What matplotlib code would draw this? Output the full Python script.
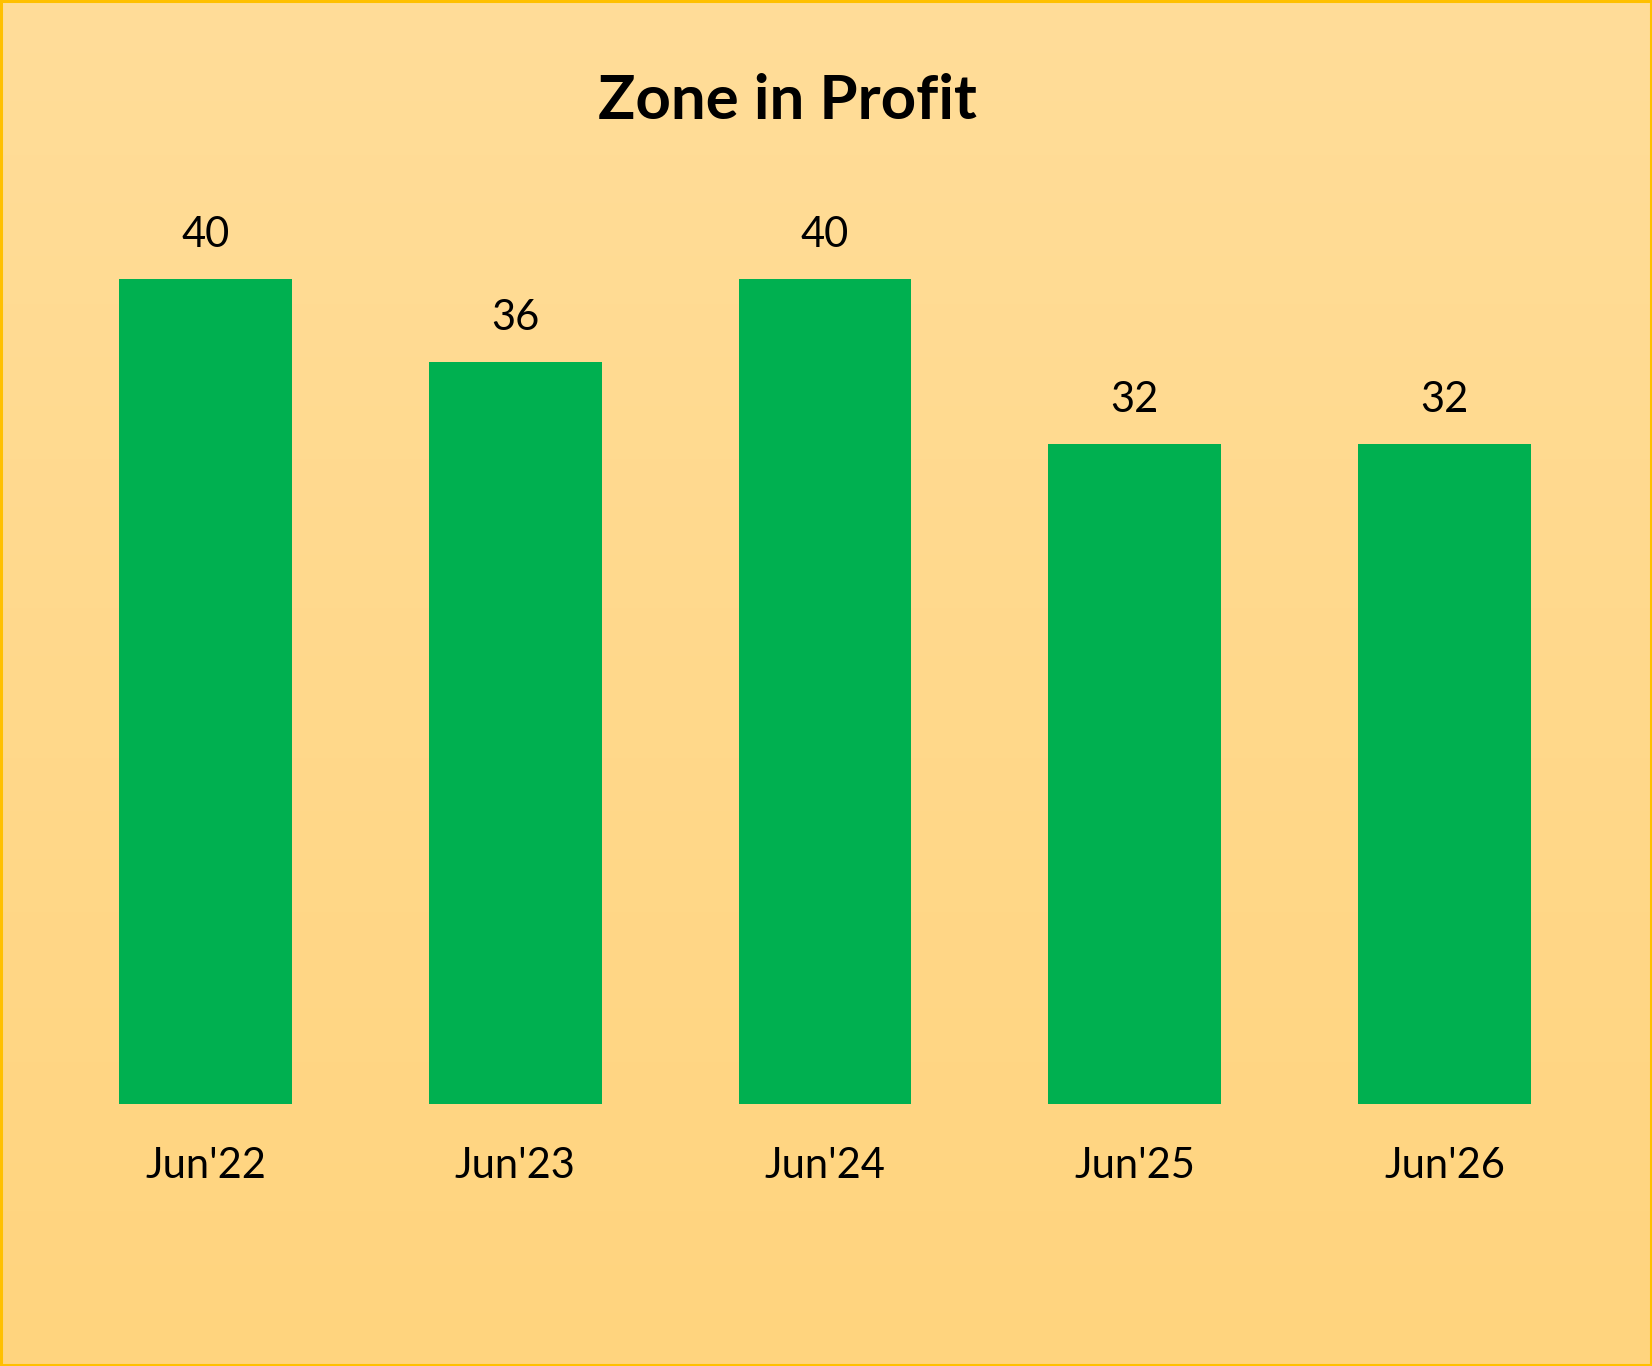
import numpy as np
import matplotlib.pyplot as plt
from matplotlib.patches import Rectangle

categories = ["Jun'22", "Jun'23", "Jun'24", "Jun'25", "Jun'26"]
profit = [40, 36, 40, 32, 32]

W, H = 1652, 1366
plt.rcParams['font.family'] = ['Lato', 'DejaVu Sans']

fig = plt.figure(figsize=(W / 100, H / 100), dpi=100)

# fond en dégradé
bg = fig.add_axes([0, 0, 1, 1], zorder=0)
grad = np.linspace(0, 1, 256).reshape(-1, 1)
top = np.array([255, 221, 153]) / 255
bottom = np.array([255, 212, 126]) / 255
img = top + (bottom - top) * grad[..., None]
bg.imshow(img, aspect='auto', extent=[0, 1, 0, 1], origin='upper')
bg.set_xlim(0, 1)
bg.set_ylim(0, 1)
bg.axis('off')
bg.add_patch(Rectangle((0.0006, 0.0008), 0.9988, 0.9984, fill=False,
                       edgecolor='#FFC000', linewidth=2.2, transform=bg.transAxes))

ax = fig.add_axes([50.5 / W, 262 / H, 1549 / W, 928 / H], zorder=1)
ax.patch.set_alpha(0)
x = np.arange(len(categories))
bars = ax.bar(x, profit, width=0.558, color='#00B050')
ax.set_xlim(-0.5, len(categories) - 0.5)
ax.set_ylim(0, 45)
for s in ax.spines.values():
    s.set_visible(False)
ax.set_yticks([])
ax.set_xticks(x)
ax.set_xticklabels(categories, fontsize=30)
ax.tick_params(axis='x', length=0, pad=31)

for b, v in zip(bars, profit):
    ax.annotate(str(v), (b.get_x() + b.get_width() / 2, v), xytext=(0, 25),
                textcoords='offset pixels', ha='center', va='bottom', fontsize=30)

fig.text(787.5 / W, 1 - 119 / H, 'Zone in Profit', ha='center', va='baseline',
         fontsize=44.5, fontweight='bold')

fig.savefig('out.png', dpi=100)
